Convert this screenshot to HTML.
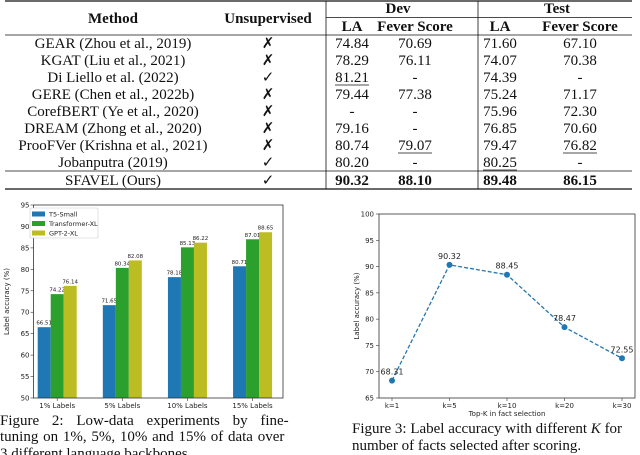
<!DOCTYPE html>
<html><head><meta charset="utf-8"><style>
html,body{margin:0;padding:0;background:#fff;}
svg{display:block;}
.t{font-family:"Liberation Serif","DejaVu Serif",serif;font-size:15px;fill:#111;}
.b{font-weight:bold;}
.s{font-family:"DejaVu Sans","Liberation Sans",sans-serif;fill:#222;}
</style></head><body>
<svg id="root" width="640" height="455" viewBox="0 0 640 455">
<g id="table">
  <line x1="5" x2="632" y1="1" y2="1" stroke="#111" stroke-width="1.3"/>
  <line x1="326" x2="632" y1="17.5" y2="17.5" stroke="#111" stroke-width="0.8"/>
  <line x1="5" x2="632" y1="35" y2="35" stroke="#111" stroke-width="0.8"/>
  <line x1="5" x2="632" y1="171" y2="171" stroke="#111" stroke-width="0.8"/>
  <line x1="5" x2="632" y1="189" y2="189" stroke="#111" stroke-width="1.3"/>
  <line x1="326" x2="326" y1="1" y2="189" stroke="#111" stroke-width="0.8"/>
  <line x1="478" x2="478" y1="1" y2="189" stroke="#111" stroke-width="0.8"/>
  <text class="t b" x="113" y="23" text-anchor="middle">Method</text>
  <text class="t b" x="268" y="23" text-anchor="middle">Unsupervised</text>
  <text class="t b" x="398" y="13" text-anchor="middle">Dev</text>
  <text class="t b" x="557" y="13" text-anchor="middle">Test</text>
  <text class="t b" x="352" y="31" text-anchor="middle">LA</text>
  <text class="t b" x="415" y="31" text-anchor="middle">Fever Score</text>
  <text class="t b" x="500" y="31" text-anchor="middle">LA</text>
  <text class="t b" x="580" y="31" text-anchor="middle">Fever Score</text>
</g>
<g id="fig2"></g>
<g id="fig3"></g>
<g>
  <text class="t" x="0" y="425" word-spacing="9">Figure 2:  Low-data experiments by fine-</text>
  <text class="t" x="0" y="441" word-spacing="1">tuning on 1%, 5%, 10% and 15% of data over</text>
  <text class="t" x="0" y="458">3 different language backbones.</text>
</g>
<g>
  <text class="t" x="352" y="433">Figure 3: Label accuracy with different <tspan font-style="italic">K</tspan> for</text>
  <text class="t" x="352" y="450">number of facts selected after scoring.</text>
</g>
</svg>
<script>
const NS="http://www.w3.org/2000/svg";
function mk(p,tag,at,txt){const e=document.createElementNS(NS,tag);for(const k in at)e.setAttribute(k,at[k]);if(txt!==undefined)e.textContent=txt;p.appendChild(e);return e;}

// ---- table data ----
const methods=["GEAR (Zhou et al., 2019)","KGAT (Liu et al., 2021)","Di Liello et al. (2022)","GERE (Chen et al., 2022b)","CorefBERT (Ye et al., 2020)","DREAM (Zhong et al., 2020)","ProoFVer (Krishna et al., 2021)","Jobanputra (2019)","SFAVEL (Ours)"];
const unsup=["✗","✗","✓","✗","✗","✗","✗","✓","✓"];
const devLA=["74.84","78.29","81.21","79.44","-","79.16","80.74","80.20","90.32"];
const devFS=["70.69","76.11","-","77.38","-","-","79.07","-","88.10"];
const testLA=["71.60","74.07","74.39","75.24","75.96","76.85","79.47","80.25","89.48"];
const testFS=["67.10","70.38","-","71.17","72.30","70.60","76.82","-","86.15"];
const underlined={"2-2":1,"6-3":1,"7-4":1,"6-5":1};
const tbl=document.getElementById('table');
const colX=[113,268,352,415,500,580];
methods.forEach((m,i)=>{
  const y=i<8?48+i*17:185;
  const vals=[m,unsup[i],devLA[i],devFS[i],testLA[i],testFS[i]];
  vals.forEach((v,j)=>{
    const t=mk(tbl,'text',{class:'t'+(i==8&&j>=2?' b':''),x:colX[j],y:y,'text-anchor':'middle'},v);
    
    
    if(underlined[i+'-'+j]){mk(tbl,'line',{x1:colX[j]-17,x2:colX[j]+17,y1:y+3,y2:y+3,stroke:'#111','stroke-width':0.8});}
  });
});

// ---- fig 2 data ----
const groups=["1% Labels","5% Labels","10% Labels","15% Labels"];
const seriesNames=["T5-Small","Transformer-XL","GPT-2-XL"];
const t5Vals=[66.51,71.65,78.18,80.71];
const txlVals=[74.22,80.34,85.13,87.01];
const gptVals=[76.14,82.08,86.22,88.65];
const yTicks2=[50,55,60,65,70,75,80,85,90,95];
(function(){
  const g=document.getElementById('fig2');
  const L=33.5,R=283,T=205,B=398;
  const y=v=>B-(v-50)/(95-50)*(B-T);
  const x=i=>L+(R-L)*(0.095+i*0.261);
  const colors=["#1f77b4","#2ca02c","#bcbd22"];
  const bw=13;
  yTicks2.forEach(v=>{mk(g,'line',{x1:L-3,x2:L,y1:y(v),y2:y(v),stroke:'#333','stroke-width':0.6});
    const t=mk(g,'text',{class:'s',x:L-4,y:y(v)+2.5,'font-size':7,'text-anchor':'end'},v);
    });
  const yl=mk(g,'text',{class:'s','font-size':7,transform:`translate(9,${(T+B)/2}) rotate(-90)`,'text-anchor':'middle'},'Label accuracy (%)');
  
  [t5Vals,txlVals,gptVals].forEach((arr,s)=>{
    arr.forEach((v,i)=>{
      const cx=x(i)+(s-1)*bw;
      const r=mk(g,'rect',{x:cx-bw/2,y:y(v),width:bw,height:B-y(v),fill:colors[s]});
      
      
      const t=mk(g,'text',{class:'s',x:cx,y:y(v)-2.5,'font-size':5.5,'text-anchor':'middle'},v.toFixed(2));
      
    });
  });
  groups.forEach((c,i)=>{mk(g,'line',{x1:x(i),x2:x(i),y1:B,y2:B+3,stroke:'#333','stroke-width':0.6});
    const t=mk(g,'text',{class:'s',x:x(i),y:B+10,'font-size':7,'text-anchor':'middle'},c);
    });
  mk(g,'rect',{x:L,y:T,width:R-L,height:B-T,fill:'none',stroke:'#333','stroke-width':0.8});
  const lg=mk(g,'g',{});
  
  mk(lg,'rect',{x:30,y:208,width:68,height:30,fill:'#fff',stroke:'#ccc','stroke-width':0.6,rx:1.5});
  seriesNames.forEach((n,s)=>{
    mk(lg,'rect',{x:32,y:211.5+s*9.5,width:13,height:5,fill:colors[s]});
    const t=mk(lg,'text',{class:'s',x:49,y:216.5+s*9.5,'font-size':6.5},n);
    
  });
})();

// ---- fig 3 data ----
const kLabels=["k=1","k=5","k=10","k=20","k=30"];
const accVals=[68.31,90.32,88.45,78.47,72.55];
const yTicks3=[65,70,75,80,85,90,95,100];
(function(){
  const g=document.getElementById('fig3');
  const L=379,R=635,T=214,B=398;
  const y=v=>B-(v-65)/(100-65)*(B-T);
  const x=i=>392+i*(622-392)/(kLabels.length-1);
  yTicks3.forEach(v=>{mk(g,'line',{x1:L-3,x2:L,y1:y(v),y2:y(v),stroke:'#333','stroke-width':0.6});
    const t=mk(g,'text',{class:'s',x:L-5,y:y(v)+2.5,'font-size':7,'text-anchor':'end'},v);
    });
  kLabels.forEach((c,i)=>{mk(g,'line',{x1:x(i),x2:x(i),y1:B,y2:B+3,stroke:'#333','stroke-width':0.6});
    const t=mk(g,'text',{class:'s',x:x(i),y:B+10,'font-size':7,'text-anchor':'middle'},c);
    });
  const xl=mk(g,'text',{class:'s',x:(L+R)/2,y:416,'font-size':7,'text-anchor':'middle'},'Top-K in fact selection');
  
  const yl=mk(g,'text',{class:'s','font-size':7,transform:`translate(359,${(T+B)/2}) rotate(-90)`,'text-anchor':'middle'},'Label accuracy (%)');
  
  const pts=accVals.map((v,i)=>x(i)+','+y(v)).join(' ');
  const pl=mk(g,'polyline',{points:pts,fill:'none',stroke:'#1f77b4','stroke-width':1.3,'stroke-dasharray':'4,2'});
  
  accVals.forEach((v,i)=>{
    const c=mk(g,'circle',{cx:x(i),cy:y(v),r:3,fill:'#1f77b4'});
    
    const t=mk(g,'text',{class:'s',x:x(i),y:y(v)-6,'font-size':8,'text-anchor':'middle'},v.toFixed(2));
    
  });
  mk(g,'rect',{x:L,y:T,width:R-L,height:B-T,fill:'none',stroke:'#333','stroke-width':0.8});
})();
</script>
</body></html>
